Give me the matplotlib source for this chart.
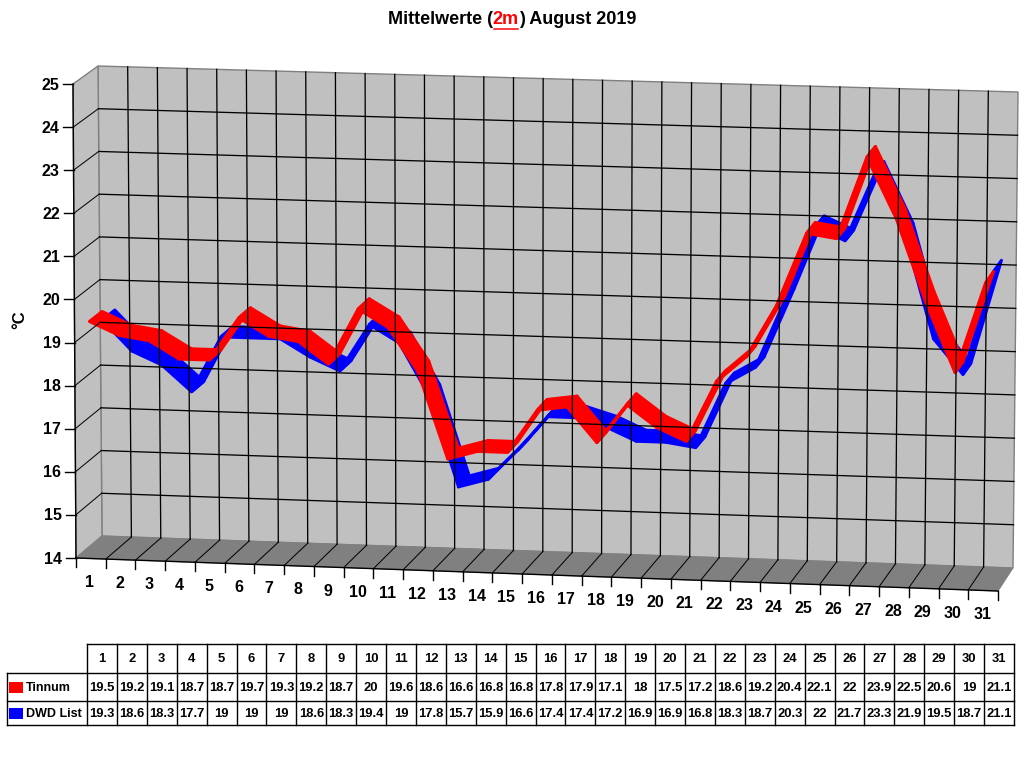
# Mittelwerte (2m) August 2019 - pseudo 3D line chart with data table
import numpy as np
import matplotlib
matplotlib.use('Agg')
import matplotlib.pyplot as plt
from matplotlib.patches import Polygon

plt.rcParams['font.family'] = ['Liberation Sans', 'DejaVu Sans']
plt.rcParams['font.weight'] = 'bold'

# Data
days = list(range(1, 32))
tinnum = [19.5, 19.2, 19.1, 18.7, 18.7, 19.7, 19.3, 19.2, 18.7, 20, 19.6, 18.6, 16.6, 16.8, 16.8,
          17.8, 17.9, 17.1, 18, 17.5, 17.2, 18.6, 19.2, 20.4, 22.1, 22, 23.9, 22.5, 20.6, 19, 21.1]
dwd = [19.3, 18.6, 18.3, 17.7, 19, 19, 19, 18.6, 18.3, 19.4, 19, 17.8, 15.7, 15.9, 16.6,
       17.4, 17.4, 17.2, 16.9, 16.9, 16.8, 18.3, 18.7, 20.3, 22, 21.7, 23.3, 21.9, 19.5, 18.7, 21.1]
series_names = ['Tinnum', 'DWD List']
series_colors = ['#ff0000', '#0000ff']
y_ticks = list(range(14, 26))
y_min, y_max = 14, 25

# 3D box corners in pixels (front plane, back plane)
F = {'00': (76, 558), '10': (998, 591), '01': (73, 84), '11': (1002, 114)}
B = {'00': (102, 536), '10': (1013, 568), '01': (98, 66), '11': (1018, 92)}
n = len(days)


def bilin(c, s, t):
    p00, p10, p01, p11 = [np.array(c[k], float) for k in ('00', '10', '01', '11')]
    return (p00 * (1 - s) * (1 - t) + p10 * s * (1 - t) + p01 * (1 - s) * t + p11 * s * t)


def proj(u, v, w):
    s = u / n
    t = (v - y_min) / (y_max - y_min)
    return bilin(F, s, t) * (1 - w) + bilin(B, s, t) * w


fig = plt.figure(figsize=(10.24, 7.68), dpi=100)
ax = fig.add_axes([0, 0, 1, 1])
ax.set_xlim(0, 1024)
ax.set_ylim(768, 0)
ax.axis('off')

wall = '#c0c0c0'
floor = '#808080'
edge = '#808080'
px = 0.72

# walls
back = [proj(0, y_min, 1), proj(n, y_min, 1), proj(n, y_max, 1), proj(0, y_max, 1)]
left = [proj(0, y_min, 0), proj(0, y_min, 1), proj(0, y_max, 1), proj(0, y_max, 0)]
flo = [proj(0, y_min, 0), proj(n, y_min, 0), proj(n, y_min, 1), proj(0, y_min, 1)]
ax.add_patch(Polygon(back, closed=True, fc=wall, ec=edge, lw=1.4 * px))
ax.add_patch(Polygon(left, closed=True, fc=wall, ec=edge, lw=1.4 * px))
ax.add_patch(Polygon(flo, closed=True, fc=floor, ec=floor, lw=1 * px))


def seg(p, q, **kw):
    ax.plot([p[0], q[0]], [p[1], q[1]], **kw)


# grid
for v in y_ticks[1:-1]:
    seg(proj(0, v, 1), proj(n, v, 1), color='black', lw=1.3 * px)
    seg(proj(0, v, 0), proj(0, v, 1), color='black', lw=1 * px)
for u in range(1, n):
    seg(proj(u, y_min, 1), proj(u, y_max, 1), color='black', lw=1.3 * px)
    seg(proj(u, y_min, 0), proj(u, y_min, 1), color='black', lw=1 * px)

# axes lines
seg(proj(0, y_min, 0), proj(0, y_max, 0), color='black', lw=1.4 * px)
seg(proj(0, y_min, 0), proj(n, y_min, 0), color='black', lw=1.4 * px)
for v in y_ticks:
    p = proj(0, v, 0)
    seg(p, p + np.array([-10, 0]), color='black', lw=1.4 * px)
    ax.text(p[0] - 14, p[1] + 1, str(v), ha='right', va='center', fontsize=11.5, weight='bold')
for u in range(0, n + 1):
    p = proj(u, y_min, 0)
    seg(p, p + np.array([0, 9]), color='black', lw=1.4 * px)
for i, d in enumerate(days):
    p = proj(i + 0.5, y_min, 0)
    ax.text(p[0] - 1, p[1] + 24, str(d), ha='center', va='center', fontsize=11.5, weight='bold')

ax.text(20, 320, '°C', rotation=90, ha='center', va='center', fontsize=12, weight='bold')

# ribbons, back series first
depths = [(0.0, 0.5), (0.5, 1.0)]
data = [tinnum, dwd]
for k in [1, 0]:
    vals = data[k]
    w0, w1 = depths[k]
    for i in range(n - 1):
        u0, u1 = i + 0.5, i + 1.5
        poly = [proj(u0, vals[i], w0), proj(u1, vals[i + 1], w0),
                proj(u1, vals[i + 1], w1), proj(u0, vals[i], w1)]
        ax.add_patch(Polygon(poly, closed=True, fc=series_colors[k], ec=series_colors[k],
                             lw=3 * px, joinstyle='round'))

# title
tx, ty = 512, 20
fs_t = 13
r = fig.canvas.get_renderer()
parts = [('Mittelwerte (', 'black'), ('2m', 'red'), (') August 2019', 'black')]
texts = [ax.text(0, ty, s, color=c, fontsize=fs_t, weight='bold', va='center', ha='left') for s, c in parts]
widths = [t.get_window_extent(renderer=r).width for t in texts]
x0 = tx - sum(widths) / 2
for t, wd in zip(texts, widths):
    t.set_x(x0)
    if t.get_text() == '2m':
        ax.plot([x0 + 1, x0 + wd - 1], [ty + 9, ty + 9], color='red', lw=1.5 * px)
    x0 += wd

# table
tl, tc0, tr = 7, 87, 1014
rows = [644, 673, 701, 725]
cw = (tr - tc0) / n
lc = 'black'
tlw = 1.4 * px
fs_tab = 9.4
ax.plot([tc0, tr], [rows[0], rows[0]], color=lc, lw=tlw)
for yy in rows[1:]:
    ax.plot([tl, tr], [yy, yy], color=lc, lw=tlw)
ax.plot([tl, tl], [rows[1], rows[3]], color=lc, lw=tlw)
for j in range(n + 1):
    xx = tc0 + j * cw
    ax.plot([xx, xx], [rows[0], rows[3]], color=lc, lw=tlw)
for j, d in enumerate(days):
    xc = tc0 + (j + 0.5) * cw
    ax.text(xc, (rows[0] + rows[1]) / 2 + 1, str(d), ha='center', va='center', fontsize=fs_tab, weight='bold')
    for k in range(2):
        yc = (rows[k + 1] + rows[k + 2]) / 2 + 1
        ax.text(xc, yc, f'{data[k][j]:g}', ha='center', va='center', fontsize=fs_tab, weight='bold')
for k in range(2):
    yc = (rows[k + 1] + rows[k + 2]) / 2 + 1
    ax.add_patch(plt.Rectangle((9, yc - 6), 14, 11, fc=series_colors[k], ec='none'))
    ax.text(26, yc, series_names[k], ha='left', va='center', fontsize=9, weight='bold')

fig.savefig('out.png', dpi=100)
